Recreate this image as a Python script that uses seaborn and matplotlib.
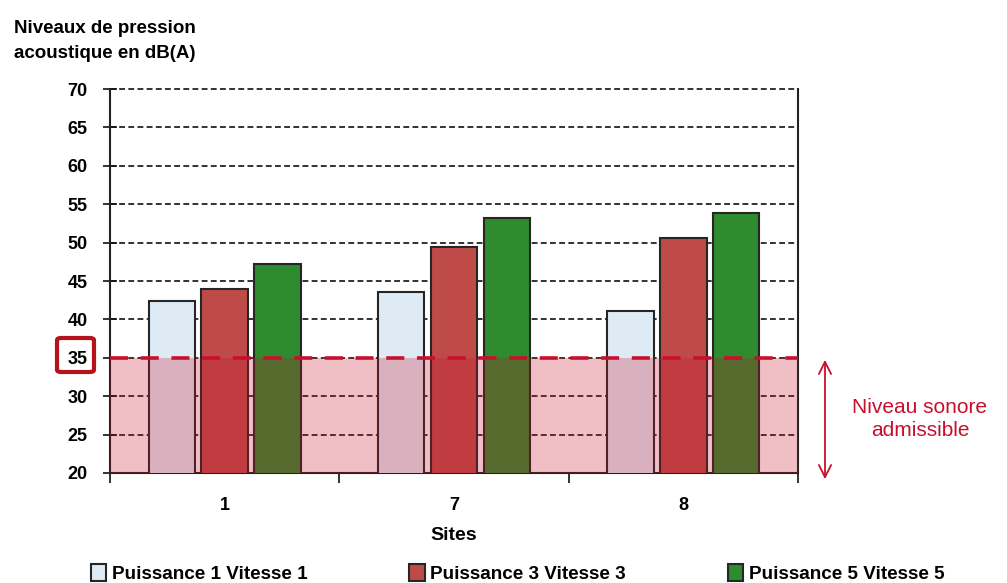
import matplotlib
matplotlib.use("Agg")
import matplotlib.pyplot as plt
from matplotlib.patches import FancyBboxPatch
import pandas as pd
import seaborn as sns

# Measured sound pressure levels, dB(A)
sites = ["1", "7", "8"]
series = ["Puissance 1 Vitesse 1", "Puissance 3 Vitesse 3", "Puissance 5 Vitesse 5"]
p1_v1 = [42.4, 43.6, 41.1]
p3_v3 = [44.0, 49.4, 50.6]
p5_v5 = [47.2, 53.2, 53.9]
admissible_level = 35
y_ticks = list(range(20, 75, 5))

colors = ["#DEEBF5", "#BE4B48", "#2E8B2E"]
limit_red = "#C8102E"

df = pd.DataFrame({
    "Site": sites * 3,
    "Série": [series[0]] * 3 + [series[1]] * 3 + [series[2]] * 3,
    "dB": p1_v1 + p3_v3 + p5_v5,
})

sns.set_style("white")
plt.rcParams["font.family"] = ["Liberation Sans", "DejaVu Sans"]
plt.rcParams["text.color"] = "black"
plt.rcParams["axes.labelcolor"] = "black"
plt.rcParams["xtick.color"] = "black"
plt.rcParams["ytick.color"] = "black"

fig = plt.figure(figsize=(10.07, 5.83), dpi=100)
ax = fig.add_axes([0.1092, 0.1887, 0.6833, 0.6586])

sns.barplot(data=df, x="Site", y="dB", hue="Série", hue_order=series,
            palette=colors, width=0.69, gap=0.12, edgecolor="#262626",
            linewidth=1.5, saturation=1, ax=ax, zorder=3, legend=True)

ax.set_ylim(20, 70)
ax.set_xlim(-0.5, 2.5)
ax.set_yticks(y_ticks)
ax.set_yticklabels([str(v) for v in y_ticks], fontsize=13, fontweight="bold")
ax.set_xticks(range(len(sites)))
ax.set_xticklabels(sites, fontsize=13, fontweight="bold")
ax.set_xticks([-0.5, 0.5, 1.5, 2.5], minor=True)
ax.tick_params(axis="x", which="major", length=0, pad=17)
ax.tick_params(axis="x", which="minor", bottom=True, length=7, width=1.3,
               direction="out", color="#222222")
ax.tick_params(axis="y", left=True, length=10, width=1.3, direction="inout",
               color="#222222", pad=11)

ax.set_xlabel("Sites", fontsize=14, fontweight="bold", labelpad=10)
ax.set_ylabel("")

# dashed horizontal grid
for v in y_ticks[1:]:
    ax.axhline(v, color="#111111", lw=1.2, ls=(0, (3.5, 2)), zorder=1, clip_on=False)

for side in ["left", "right", "bottom"]:
    ax.spines[side].set_visible(True)
    ax.spines[side].set_color("#222222")
    ax.spines[side].set_linewidth(1.5)
ax.spines["top"].set_visible(False)

# admissible zone and limit line
ax.axhspan(20, admissible_level, color="#C8142D", alpha=0.27, lw=0, zorder=4)
ax.axhline(admissible_level, color=limit_red, lw=2.6, ls=(0, (5, 3.5)), zorder=5)

# highlighted "35" tick label
box = FancyBboxPatch((57 / 1007, 1 - 372 / 583), 37 / 1007, 34 / 583,
                     boxstyle="round,pad=0,rounding_size=0.004",
                     transform=fig.transFigure, fill=False,
                     edgecolor="#B5121B", lw=3)
fig.patches.append(box)

# axis title
fig.text(0.104, 0.965, "Niveaux de pression\nacoustique en dB(A)", ha="center",
         multialignment="center", va="top", fontsize=13.5, fontweight="bold",
         linespacing=1.55)

# annotation of the admissible range
ax.annotate("", xy=(825 / 1007, 1 - 482 / 583), xytext=(825 / 1007, 1 - 357 / 583),
            xycoords="figure fraction", textcoords="figure fraction",
            arrowprops=dict(arrowstyle="<->", color=limit_red, lw=1.3,
                            mutation_scale=22))
fig.text(920 / 1007, 1 - 419 / 583, "Niveau sonore\nadmissible", color=limit_red,
         ha="center", va="center", fontsize=15, linespacing=1.3)

# legend below the chart
sns.move_legend(ax, "center", bbox_to_anchor=(0.514, 0.017),
                bbox_transform=fig.transFigure, ncol=3, frameon=False,
                title=None, columnspacing=5.4, handlelength=0.8,
                handleheight=1.0, handletextpad=0.3,
                prop={"weight": "bold", "size": 13.6})

fig.savefig("out.png", dpi=100)
